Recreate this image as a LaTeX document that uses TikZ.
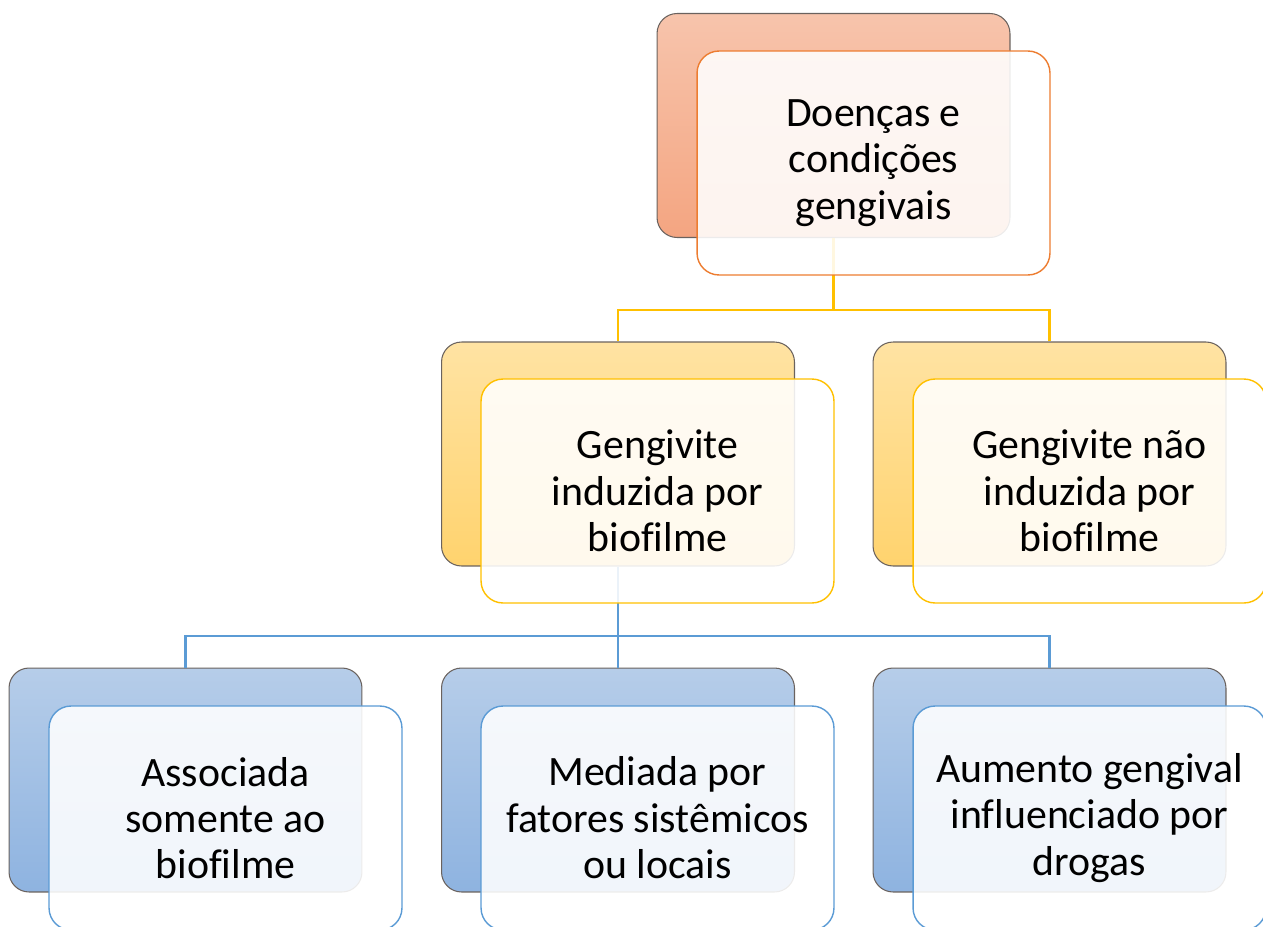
\documentclass[tikz,border=0pt]{standalone}
\usepackage{fontspec}
\setmainfont{Carlito}[Ligatures=NoCommon]
\definecolor{orL}{HTML}{F7C4AC}
\definecolor{orD}{HTML}{F4A581}
\definecolor{orB}{HTML}{ED7D31}
\definecolor{yeL}{HTML}{FFE3A3}
\definecolor{yeD}{HTML}{FFD36E}
\definecolor{yeB}{HTML}{FFC000}
\definecolor{blL}{HTML}{B6CDE9}
\definecolor{blD}{HTML}{8EB3E0}
\definecolor{blB}{HTML}{5B9BD5}
\definecolor{edgeG}{HTML}{6A625E}
\begin{document}
\begin{tikzpicture}[x=0.02cm,y=-0.02cm,
  backbox/.style={rectangle, rounded corners=0.4cm, draw=edgeG, line width=0.6pt,
    minimum width=7.06cm, minimum height=4.48cm, inner sep=0pt},
  frontbox/.style={rectangle, rounded corners=0.44cm, line width=0.8pt, fill=white,
    fill opacity=0.88, text opacity=1, minimum width=7.06cm, minimum height=4.48cm,
    inner sep=0pt, align=center, font=\fontsize{23.8pt}{26.4pt}\selectfont},
  orback/.style={backbox, top color=orL, bottom color=orD},
  yeback/.style={backbox, top color=yeL, bottom color=yeD},
  blback/.style={backbox, top color=blL, bottom color=blD},
  yline/.style={draw=yeB, line width=1.2pt},
  bline/.style={draw=blB, line width=1.2pt}]
\clip (0,0) rectangle (1263,926);
\useasboundingbox (0,0) rectangle (1263,926);
% back boxes
\node[orback] (t0) at (833.5,125.5) {};
\node[yeback] (a0) at (618,454) {};
\node[yeback] (b0) at (1049.5,454) {};
\node[blback] (c0) at (185.5,780) {};
\node[blback] (d0) at (618,780) {};
\node[blback] (e0) at (1049.5,780) {};
% connectors
\coordinate (yj) at (833.5,310);
\coordinate (bj) at (618,636);
\draw[yline] (t0.south) -- (yj);
\draw[yline] (yj) -| (a0.north);
\draw[yline] (yj) -| (b0.north);
\draw[bline] (a0.south) -- (bj);
\draw[bline] (bj) -| (c0.north);
\draw[bline] (bj) -| (d0.north);
\draw[bline] (bj) -| (e0.north);
% front boxes
\node[frontbox, draw=orB] (t1) at (873.5,163) {Doenças e\\condições\\gengivais};
\node[frontbox, draw=yeB] (a1) at (657.5,491) {Gengivite\\induzida por\\biofilme};
\node[frontbox, draw=yeB] (b1) at (1089.5,491) {Gengivite não\\induzida por\\biofilme};
\node[frontbox, draw=blB] (c1) at (225.5,818) {Associada\\somente ao\\biofilme};
\node[frontbox, draw=blB] (d1) at (657.5,818) {Mediada por\\fatores sistêmicos\\ou locais};
\node[frontbox, draw=blB] (e1) at (1089.5,818) {Aumento gengival\\influenciado por\\drogas};
\end{tikzpicture}
\end{document}
